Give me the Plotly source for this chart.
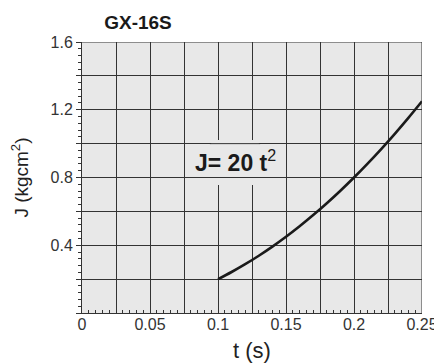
import plotly.graph_objects as go

# Data: J = 20 t^2 curve
t_vals = [0.100, 0.110, 0.120, 0.130, 0.140, 0.150, 0.160, 0.170, 0.180,
          0.190, 0.200, 0.210, 0.220, 0.230, 0.240, 0.250]
j_vals = [0.200, 0.242, 0.288, 0.338, 0.392, 0.450, 0.512, 0.578, 0.648,
          0.722, 0.800, 0.882, 0.968, 1.058, 1.152, 1.250]

x_label_vals = [0, 0.05, 0.1, 0.15, 0.2, 0.25]
x_label_text = ["0", "0.05", "0.1", "0.15", "0.2", "0.25"]
y_label_vals = [0.4, 0.8, 1.2, 1.6]
y_label_text = ["0.4", "0.8", "1.2", "1.6"]
x_range = [0, 0.25]
y_range = [0, 1.6]

title_text = "<b>GX-16S</b>"
formula_text = "<b>J= 20 t</b><sup>2</sup>"

FONT = "Liberation Sans"
GRID = "#333333"
BG = "#e8e8e8"

# The page body has an 8px default margin, so the figure is sized 8px smaller.
W, H = 434, 355

fig = go.Figure()
fig.add_trace(go.Scatter(x=t_vals, y=j_vals, mode="lines",
                         line=dict(color="#1a1a1a", width=2.6, shape="spline"),
                         hoverinfo="skip", showlegend=False))

# Patch hiding the vertical grid lines behind the formula label
fig.add_shape(type="rect", xref="x", yref="y", x0=0.095, x1=0.13, y0=0.756, y1=1.022,
              fillcolor=BG, line=dict(width=0), layer="above")
for yv in (0.8, 1.0):
    fig.add_shape(type="line", xref="x", yref="y", x0=0.094, x1=0.131, y0=yv, y1=yv,
                  line=dict(color=GRID, width=1), layer="above")
# top and right frame
fig.add_shape(type="line", xref="x", yref="y", x0=x_range[0], x1=x_range[1],
              y0=y_range[1], y1=y_range[1], line=dict(color=GRID, width=1), layer="above")
fig.add_shape(type="line", xref="x", yref="y", x0=x_range[1], x1=x_range[1],
              y0=y_range[0], y1=y_range[1], line=dict(color=GRID, width=1), layer="above")

fig.add_annotation(x=0.1125, y=0.9, xref="x", yref="y", text=formula_text,
                   showarrow=False, font=dict(family=FONT, size=23, color="#1a1a1a"))

fig.update_layout(
    width=W, height=H,
    margin=dict(l=74, r=20, t=34, b=50, autoexpand=False),
    paper_bgcolor="white", plot_bgcolor=BG,
    showlegend=False,
    title=dict(text=title_text, x=130/W, xanchor="center", y=1 - 14/H, yanchor="middle",
               font=dict(family=FONT, size=19, color="#1a1a1a")),
    font=dict(family=FONT, color="#333333"),
    xaxis=dict(
        range=x_range, dtick=0.025, tick0=0, showticklabels=False,
        showgrid=True, gridcolor=GRID, gridwidth=1,
        showline=True, linecolor=GRID, linewidth=1,
        ticks="", automargin=False, zeroline=False,
        minor=dict(dtick=0.005, tick0=0, ticks="inside", ticklen=3, tickcolor=GRID, showgrid=False),
        title=dict(text="t (s)", font=dict(size=22, color="#222222"), standoff=31),
    ),
    xaxis2=dict(
        range=x_range, overlaying="x", side="bottom", anchor="y",
        tickvals=x_label_vals, ticktext=x_label_text, ticks="",
        tickfont=dict(size=16, color="#333333"),
        showgrid=False, showline=False, zeroline=False, automargin=False,
    ),
    yaxis=dict(
        range=y_range, dtick=0.2, tick0=0, showticklabels=False,
        showgrid=True, gridcolor=GRID, gridwidth=1,
        showline=True, linecolor=GRID, linewidth=1,
        ticks="outside", ticklen=5, tickcolor=GRID, automargin=False, zeroline=False,
        minor=dict(dtick=0.04, tick0=0, ticks="outside", ticklen=3, tickcolor=GRID, showgrid=False),
        title=dict(text="J (kgcm<sup>2</sup>)", font=dict(size=19, color="#222222"), standoff=44),
    ),
    yaxis2=dict(
        range=y_range, overlaying="y", side="left", anchor="x",
        tickvals=y_label_vals, ticktext=y_label_text, ticks="outside", ticklen=5,
        tickcolor="rgba(0,0,0,0)",
        tickfont=dict(size=16, color="#333333"),
        showgrid=False, showline=False, zeroline=False, automargin=False,
    ),
)
# invisible trace to activate overlay axes
fig.add_trace(go.Scatter(x=[x_range[0]], y=[y_range[0]], xaxis="x2", yaxis="y2",
                         mode="markers", marker=dict(opacity=0), hoverinfo="skip",
                         showlegend=False))

fig.write_html("out.html")
